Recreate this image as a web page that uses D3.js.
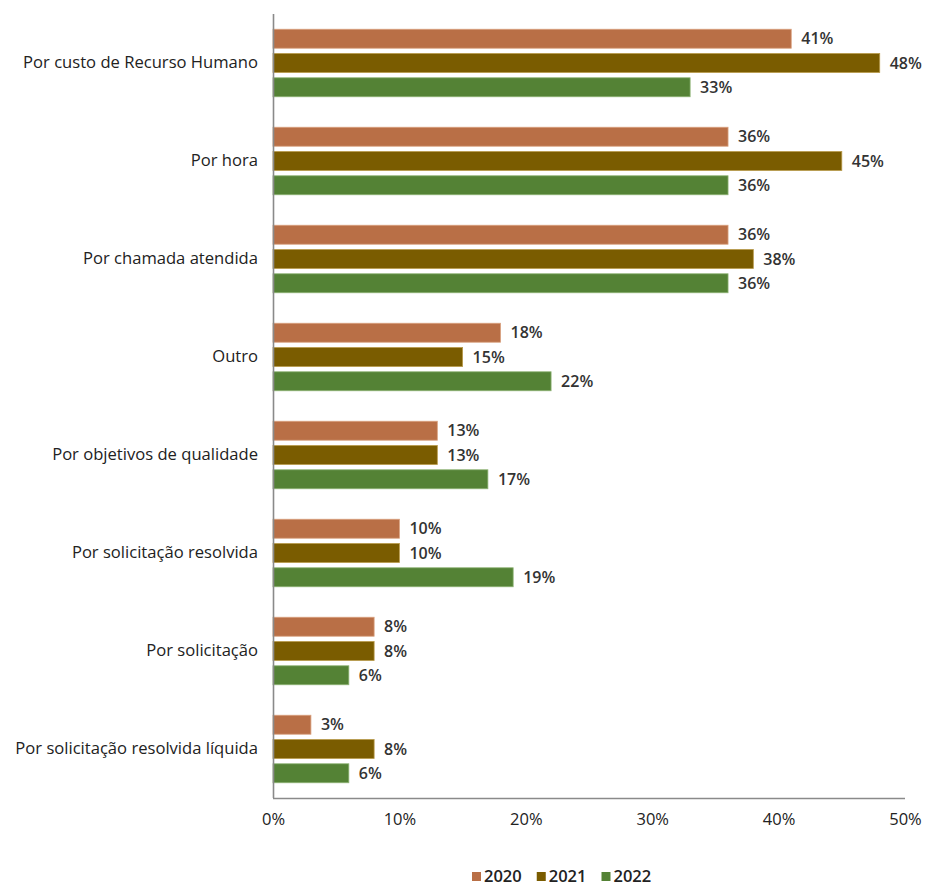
<!DOCTYPE html>
<html>
<head>
<meta charset="utf-8">
<script src="https://cdn.jsdelivr.net/npm/d3@7"></script>
<style>
  html, body { margin: 0; padding: 0; background: #fff; }
  svg { display: block; }
  text { font-family: "Open Sans", "Noto Sans", sans-serif; }
</style>
</head>
<body>
<svg id="chart" width="925" height="886"></svg>
<script>
// Remuneration model categories (top to bottom)
const categories = [
  "Por custo de Recurso Humano",
  "Por hora",
  "Por chamada atendida",
  "Outro",
  "Por objetivos de qualidade",
  "Por solicitação resolvida",
  "Por solicitação",
  "Por solicitação resolvida líquida"
];

const years = ["2020", "2021", "2022"];

// Share of respondents per year (%)
const values2020 = [41, 36, 36, 18, 13, 10, 8, 3];
const values2021 = [48, 45, 38, 15, 13, 10, 8, 8];
const values2022 = [33, 36, 36, 22, 17, 19, 6, 6];

const xTicks = [0, 10, 20, 30, 40, 50];

const colors = { "2020": "#B96F46", "2021": "#7A5C00", "2022": "#548235" };
const strokes = { "2020": "#D9A17F", "2021": "#B89A4A", "2022": "#8DB274" };

const seriesByYear = { "2020": values2020, "2021": values2021, "2022": values2022 };
const rows = categories.map((c, i) => ({
  category: c,
  bars: years.map(y => ({ year: y, value: seriesByYear[y][i] }))
}));

const svg = d3.select("#chart");
const margin = { left: 273, right: 20, top: 14, bottom: 88 };
const width = 925, height = 886;
const plotBottom = height - margin.bottom; // 798

const x = d3.scaleLinear().domain([0, 50]).range([margin.left, 905]);

const y0 = d3.scaleBand()
  .domain(categories)
  .range([margin.top, plotBottom])
  .paddingInner(0.257)
  .paddingOuter(0.1285);

const y1 = d3.scaleBand()
  .domain(years)
  .range([0, y0.bandwidth()])
  .paddingInner(0.218)
  .paddingOuter(0.109);

// Bars
const groups = svg.append("g").selectAll("g")
  .data(rows)
  .join("g")
  .attr("transform", d => `translate(0,${y0(d.category)})`);

groups.selectAll("rect")
  .data(d => d.bars)
  .join("rect")
  .attr("x", x(0))
  .attr("y", d => y1(d.year))
  .attr("width", d => x(d.value) - x(0))
  .attr("height", y1.bandwidth())
  .attr("fill", d => colors[d.year])
  .attr("stroke", d => strokes[d.year])
  .attr("stroke-width", 0.8);

// Value labels
groups.selectAll("text.val")
  .data(d => d.bars)
  .join("text")
  .attr("class", "val")
  .attr("x", d => x(d.value) + 10)
  .attr("y", d => y1(d.year) + y1.bandwidth() / 2)
  .attr("dy", "0.36em")
  .attr("font-size", 16)
  .attr("font-weight", 600)
  .attr("fill", "#333")
  .text(d => d.value + "%");

// Category axis (left)
const yAxis = svg.append("g")
  .attr("transform", `translate(${margin.left},0)`)
  .call(d3.axisLeft(y0).tickSize(0).tickPadding(15));
yAxis.select(".domain")
  .attr("d", `M0.5,${margin.top}V${plotBottom}`)
  .attr("stroke", "#8a8a8a")
  .attr("stroke-width", 1.6);
yAxis.selectAll("text")
  .attr("font-size", 16.6)
  .attr("font-weight", 500)
  .attr("fill", "#222")
  .attr("font-family", "'Open Sans', 'Noto Sans', sans-serif");

// Value axis (bottom)
const xAxis = svg.append("g")
  .attr("transform", `translate(0,${plotBottom})`)
  .call(d3.axisBottom(x).tickValues(xTicks).tickSize(0).tickPadding(15).tickFormat(d => d + "%"));
xAxis.select(".domain")
  .attr("d", `M${margin.left},0.5H905`)
  .attr("stroke", "#8a8a8a")
  .attr("stroke-width", 1.6);
xAxis.selectAll("text")
  .attr("font-size", 16.5)
  .attr("font-weight", 500)
  .attr("fill", "#222")
  .attr("font-family", "'Open Sans', 'Noto Sans', sans-serif");

// Legend: swatch + label, laid out left to right
const legend = svg.append("g").attr("transform", "translate(472,876)");
let cursor = 0;
years.forEach(yr => {
  const item = legend.append("g").attr("transform", `translate(${cursor},0)`);
  item.append("rect")
    .attr("x", 0).attr("y", -4)
    .attr("width", 9).attr("height", 9)
    .attr("fill", colors[yr]);
  const t = item.append("text")
    .attr("x", 12)
    .attr("y", 0)
    .attr("dy", "0.36em")
    .attr("font-size", 16.5)
    .attr("font-weight", 600)
    .attr("fill", "#222")
    .text(yr);
  cursor += 12 + t.node().getComputedTextLength() + 15;
});
</script>
</body>
</html>
